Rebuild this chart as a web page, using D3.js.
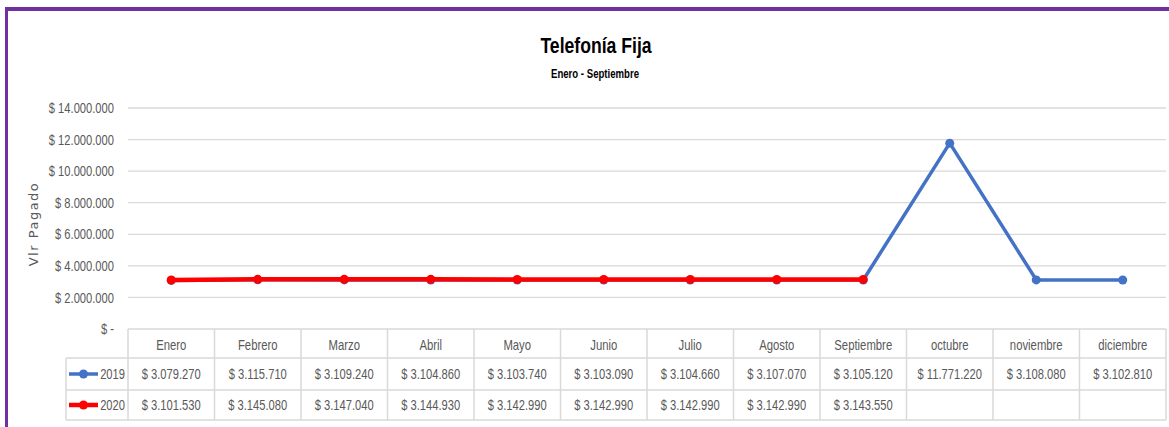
<!DOCTYPE html>
<html>
<head>
<meta charset="utf-8">
<script src="https://cdn.jsdelivr.net/npm/d3@7"></script>
<style>
  body { margin: 0; background: #fff; }
  svg text { font-family: "Liberation Sans", Arial, sans-serif; }
</style>
</head>
<body>
<svg id="chart"></svg>
<script>
var months = ["Enero", "Febrero", "Marzo", "Abril", "Mayo", "Junio", "Julio", "Agosto", "Septiembre", "octubre", "noviembre", "diciembre"];
var values2019 = [3079270, 3115710, 3109240, 3104860, 3103740, 3103090, 3104660, 3107070, 3105120, 11771220, 3108080, 3102810];
var values2020 = [3101530, 3145080, 3147040, 3144930, 3142990, 3142990, 3142990, 3142990, 3143550];
var yTicks = [0, 2000000, 4000000, 6000000, 8000000, 10000000, 12000000, 14000000];

var series = [
    { name: "2019", values: values2019, color: "#4472C4", width: 3.5 },
    { name: "2020", values: values2020, color: "#FF0000", width: 4.5 }
];

var W = 1169, H = 427;
var plotLeft = 128, plotRight = 1166, plotTop = 108, plotBottom = 329;
var rowH = [29, 32, 30];
var txtSize = "14.5px", txtColor = "#595959";

var svg = d3.select("#chart").attr("width", W).attr("height", H);

var locale = d3.formatLocale({ decimal: ",", thousands: ".", grouping: [3], currency: ["$", ""] });
var fmt = locale.format(",d");
function money(v) { return v === 0 ? "$ -" : "$ " + fmt(v); }

// squeeze text horizontally to mimic a condensed face
function narrow(sel, f) {
    sel.each(function () {
        var w = this.getComputedTextLength();
        d3.select(this).attr("textLength", w * f).attr("lengthAdjust", "spacingAndGlyphs");
    });
}

var xScale = d3.scaleBand().domain(months).range([plotLeft, plotRight]);
var yScale = d3.scaleLinear().domain([0, 14000000]).range([plotBottom, plotTop]);

// frame
svg.append("rect").attr("x", 0).attr("y", 0).attr("width", W).attr("height", H).attr("fill", "#fff");
svg.append("line").attr("x1", 5).attr("x2", W).attr("y1", 9).attr("y2", 9)
    .attr("stroke", "#7030A0").attr("stroke-width", 4);
svg.append("line").attr("x1", 6.5).attr("x2", 6.5).attr("y1", 7).attr("y2", H)
    .attr("stroke", "#7030A0").attr("stroke-width", 3);

// titles
svg.append("text").attr("x", 596).attr("y", 53).attr("text-anchor", "middle")
    .style("font-size", "22px").style("font-weight", "bold").attr("fill", "#000")
    .text("Telefonía Fija").call(narrow, 0.8);
svg.append("text").attr("x", 595).attr("y", 78).attr("text-anchor", "middle")
    .style("font-size", "12px").style("font-weight", "bold").attr("fill", "#000")
    .text("Enero - Septiembre").call(narrow, 0.8);

// y axis
var yAxis = d3.axisLeft(yScale).tickValues(yTicks).tickSize(0).tickPadding(14).tickFormat(money);
var gy = svg.append("g").attr("transform", "translate(" + plotLeft + ",0)").call(yAxis);
gy.select(".domain").remove();
gy.selectAll("text").style("font-size", txtSize).attr("fill", txtColor)
    .style("font-family", "'Liberation Sans', Arial, sans-serif")
    .call(narrow, 0.77);

// gridlines
svg.append("g").selectAll("line")
    .data(yTicks.filter(function (d) { return d > 0; }))
    .enter().append("line")
    .attr("x1", plotLeft).attr("x2", plotRight)
    .attr("y1", function (d) { return yScale(d); }).attr("y2", function (d) { return yScale(d); })
    .attr("stroke", "#D9D9D9").attr("stroke-width", 1.3);

svg.append("text")
    .attr("transform", "translate(38," + 224 + ") rotate(-90)")
    .attr("text-anchor", "middle")
    .style("font-family", "'DejaVu Sans', sans-serif").style("font-size", "13px")
    .style("letter-spacing", "1.5px").attr("fill", txtColor)
    .text("Vlr  Pagado");

// lines
function cx(i) { return xScale(months[i]) + xScale.bandwidth() / 2; }
var line = d3.line().x(function (d, i) { return cx(i); }).y(function (d) { return yScale(d); });

series.forEach(function (s) {
    svg.append("path").datum(s.values)
        .attr("d", line).attr("fill", "none")
        .attr("stroke", s.color).attr("stroke-width", s.width)
        .attr("stroke-linejoin", "round");
    svg.append("g").selectAll("circle")
        .data(s.values).enter().append("circle")
        .attr("cx", function (d, i) { return cx(i); })
        .attr("cy", function (d) { return yScale(d); })
        .attr("r", 4.5).attr("fill", s.color);
});

// data table
var tbl = svg.append("g");
var gridColor = "#D9D9D9";
var legendLeft = 66;
var y0 = plotBottom, y1 = y0 + rowH[0], y2 = y1 + rowH[1], y3 = y2 + rowH[2];

tbl.append("line").attr("x1", plotLeft).attr("x2", plotRight).attr("y1", y0).attr("y2", y0);
[y1, y2, y3].forEach(function (yy) {
    tbl.append("line").attr("x1", legendLeft).attr("x2", plotRight).attr("y1", yy).attr("y2", yy);
});
tbl.append("line").attr("x1", legendLeft).attr("x2", legendLeft).attr("y1", y1).attr("y2", y3);
months.forEach(function (m) {
    tbl.append("line").attr("x1", xScale(m)).attr("x2", xScale(m)).attr("y1", y0).attr("y2", y3);
});
tbl.append("line").attr("x1", plotRight).attr("x2", plotRight).attr("y1", y0).attr("y2", y3);
tbl.selectAll("line").attr("stroke", gridColor).attr("stroke-width", 1.5);

// header
tbl.selectAll(".hdr").data(months).enter().append("text")
    .attr("x", function (d, i) { return cx(i); }).attr("y", y0 + 21)
    .attr("text-anchor", "middle").style("font-size", txtSize).attr("fill", txtColor)
    .text(function (d) { return d; })
    .call(narrow, 0.78);

// rows
series.forEach(function (s, r) {
    var rowTop = r === 0 ? y1 : y2;
    var rh = rowH[r + 1];
    var my = rowTop + rh / 2;
    tbl.append("line").attr("x1", 69).attr("x2", 98).attr("y1", my).attr("y2", my)
        .attr("stroke", s.color).attr("stroke-width", s.width);
    tbl.append("circle").attr("cx", 83.5).attr("cy", my).attr("r", 4.5).attr("fill", s.color);
    tbl.append("text").attr("x", 125).attr("y", my + 5).attr("text-anchor", "end")
        .style("font-size", txtSize).attr("fill", txtColor).text(s.name)
        .call(narrow, 0.77);
    tbl.selectAll(".v" + r).data(s.values).enter().append("text")
        .attr("x", function (d, i) { return cx(i); }).attr("y", my + 5)
        .attr("text-anchor", "middle").style("font-size", txtSize).attr("fill", txtColor)
        .text(function (d) { return money(d); })
        .call(narrow, 0.77);
});
</script>
</body>
</html>
